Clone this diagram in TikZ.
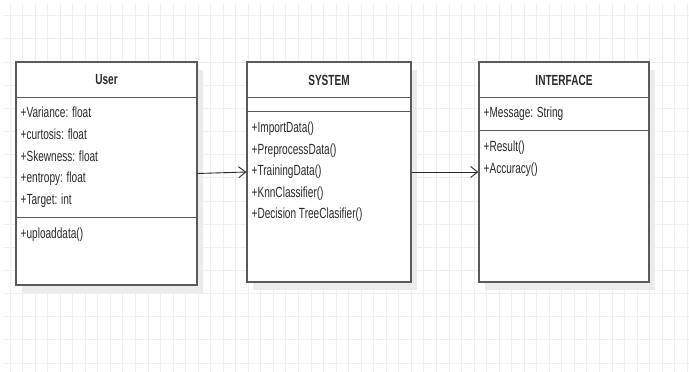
\documentclass[tikz,border=0pt]{standalone}
\usepackage{fontspec}
\setmainfont[FakeStretch=0.685]{Liberation Sans}
\usetikzlibrary{arrows.meta, positioning, shadows}

\definecolor{boxline}{HTML}{5A5A5A}
\definecolor{gridline}{HTML}{EEEEEE}
\definecolor{inktext}{HTML}{2A2A2A}

\tikzset{
    classbox/.style={
        rectangle, draw=boxline, line width=1.3pt, fill=white,
        drop shadow={shadow xshift=6pt, shadow yshift=-8pt, fill=black!8, opacity=1}
    },
    classname/.style={
        font=\fontsize{14.7}{17}\selectfont\bfseries, text=inktext, inner sep=0pt
    },
    member/.style={
        font=\fontsize{14.7}{17}\selectfont, text=inktext, anchor=base west, inner sep=0pt
    },
    sep/.style={draw=boxline, line width=1.3pt},
    arrow/.style={draw=inktext, line width=0.9pt, -{Straight Barb[length=7pt, width=11pt]}}
}

\begin{document}
\begin{tikzpicture}[x=1pt, y=-1pt]

    \useasboundingbox (0,0) rectangle (689,372);

    % Grid
    \foreach \k in {0,...,54}
        \draw[gridline, line width=0.8pt] (10+12.54*\k,4) -- (10+12.54*\k,372);
    \foreach \j in {0,...,15}
        \draw[gridline, line width=0.8pt] (3,15.7+23.15*\j) -- (689,15.7+23.15*\j);

    % User
    \node[classbox, minimum width=181pt, minimum height=223pt] (user) at (106.5,173.5) {};
    \node[classname] (usertitle) at (106.5,80) {User};
    \draw[sep] ([yshift=-36pt]user.north west) -- ([yshift=-36pt]user.north east);
    \draw[sep] ([yshift=-156pt]user.north west) -- ([yshift=-156pt]user.north east);
    \foreach \t [count=\i] in {+Variance: float, +curtosis: float, +Skewness: float, +entropy: float, +Target: int}
        \node[member] (uattr\i) at (20.5,117.5+21.75*\i-21.75) {\t};
    \node[member] (umeth1) at (20.5,238.5) {+uploaddata()};

    % SYSTEM
    \node[classbox, minimum width=164pt, minimum height=220pt] (system) at (329,172) {};
    \node[classname] (systemtitle) at (329,80) {SYSTEM};
    \draw[sep] ([yshift=-36pt]system.north west) -- ([yshift=-36pt]system.north east);
    \draw[sep] ([yshift=-50pt]system.north west) -- ([yshift=-50pt]system.north east);
    \foreach \t [count=\i] in {+ImportData(), +PreprocessData(), +TrainingData(), +KnnClassifier(), +Decision TreeClasifier()}
        \node[member] (smeth\i) at (251.5,132.5+21.5*\i-21.5) {\t};

    % INTERFACE
    \node[classbox, minimum width=170pt, minimum height=220pt] (interface) at (564,172) {};
    \node[classname] (interfacetitle) at (564,80) {INTERFACE};
    \draw[sep] ([yshift=-36pt]interface.north west) -- ([yshift=-36pt]interface.north east);
    \draw[sep] ([yshift=-69pt]interface.north west) -- ([yshift=-69pt]interface.north east);
    \node[member] (iattr1) at (483.5,117.5) {+Message: String};
    \node[member] (imeth1) at (483.5,151.5) {+Result()};
    \node[member] (imeth2) at (483.5,173.5) {+Accuracy()};

    % Relationships
    \draw[arrow] (user.east) -- (system.west);
    \draw[arrow] (system.east) -- (interface.west);

\end{tikzpicture}
\end{document}
